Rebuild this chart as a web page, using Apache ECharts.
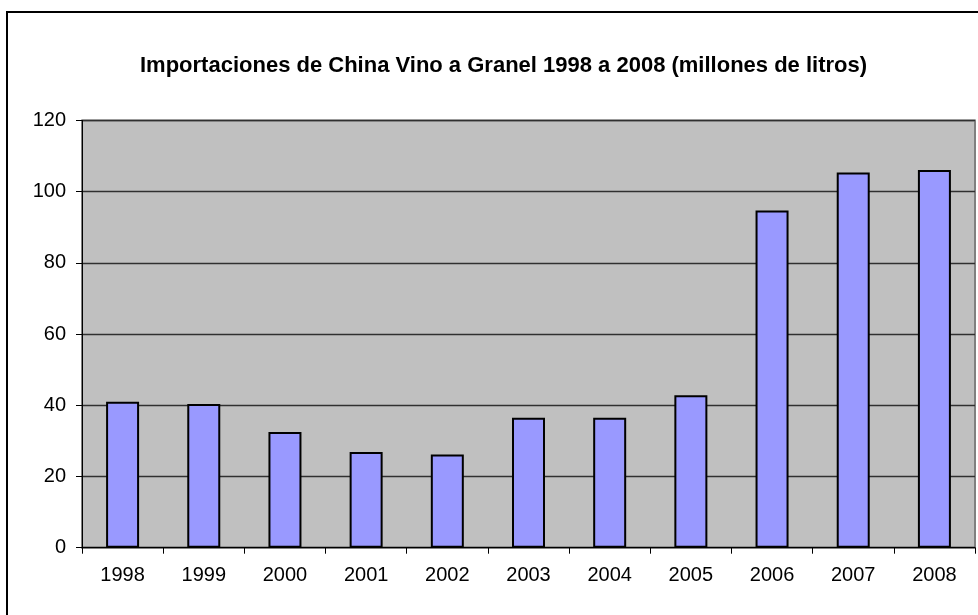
<!DOCTYPE html>
<html>
<head>
<meta charset="utf-8">
<script src="https://cdn.jsdelivr.net/npm/echarts@6/dist/echarts.min.js"></script>
<style>
html,body{margin:0;padding:0;background:#fff;}
#chart{width:978px;height:615px;}
</style>
</head>
<body>
<div id="chart"></div>
<script>
const titleText = 'Importaciones de China Vino a Granel 1998 a 2008 (millones de litros)';
const years = ['1998','1999','2000','2001','2002','2003','2004','2005','2006','2007','2008'];
const imports = [41.0, 40.4, 32.5, 26.9, 26.2, 36.5, 36.5, 42.8, 94.7, 105.4, 106.1];
const yTicks = [0, 20, 40, 60, 80, 100, 120];

const FONT = 'Arial, "Liberation Sans", sans-serif';
const chart = echarts.init(document.getElementById('chart'), null, {renderer: 'canvas'});
chart.setOption({
  backgroundColor: '#ffffff',
  animation: false,
  title: {
    text: titleText,
    left: 135,
    top: 50,
    textStyle: {fontFamily: FONT, fontSize: 22, fontWeight: 'bold', color: '#000'}
  },
  graphic: [{
    type: 'rect',
    shape: {x: 7, y: 12, width: 1000, height: 700},
    style: {fill: null, stroke: '#000', lineWidth: 2},
    silent: true,
    z: 100
  }],
  grid: {
    left: 82, top: 120.5, right: 3, bottom: 67.3,
    show: true,
    backgroundColor: '#C0C0C0',
    borderColor: '#808080',
    borderWidth: 2
  },
  xAxis: {
    type: 'category',
    data: years,
    axisLine: {show: true, lineStyle: {color: '#000', width: 1}},
    axisTick: {show: true, length: 6, lineStyle: {color: '#000'}},
    axisLabel: {fontFamily: FONT, fontSize: 20, color: '#000', margin: 18}
  },
  yAxis: {
    type: 'value',
    min: yTicks[0],
    max: yTicks[yTicks.length - 1],
    interval: 20,
    axisLine: {show: true, lineStyle: {color: '#000', width: 1}},
    axisTick: {show: true, length: 6, lineStyle: {color: '#000'}},
    axisLabel: {fontFamily: FONT, fontSize: 20, color: '#000', margin: 16},
    splitLine: {show: true, lineStyle: {color: '#303030', width: 1.3}}
  },
  series: [{
    type: 'bar',
    data: imports,
    barWidth: 33,
    itemStyle: {color: '#9999FF', borderColor: '#000', borderWidth: 2}
  }]
});
</script>
</body>
</html>
